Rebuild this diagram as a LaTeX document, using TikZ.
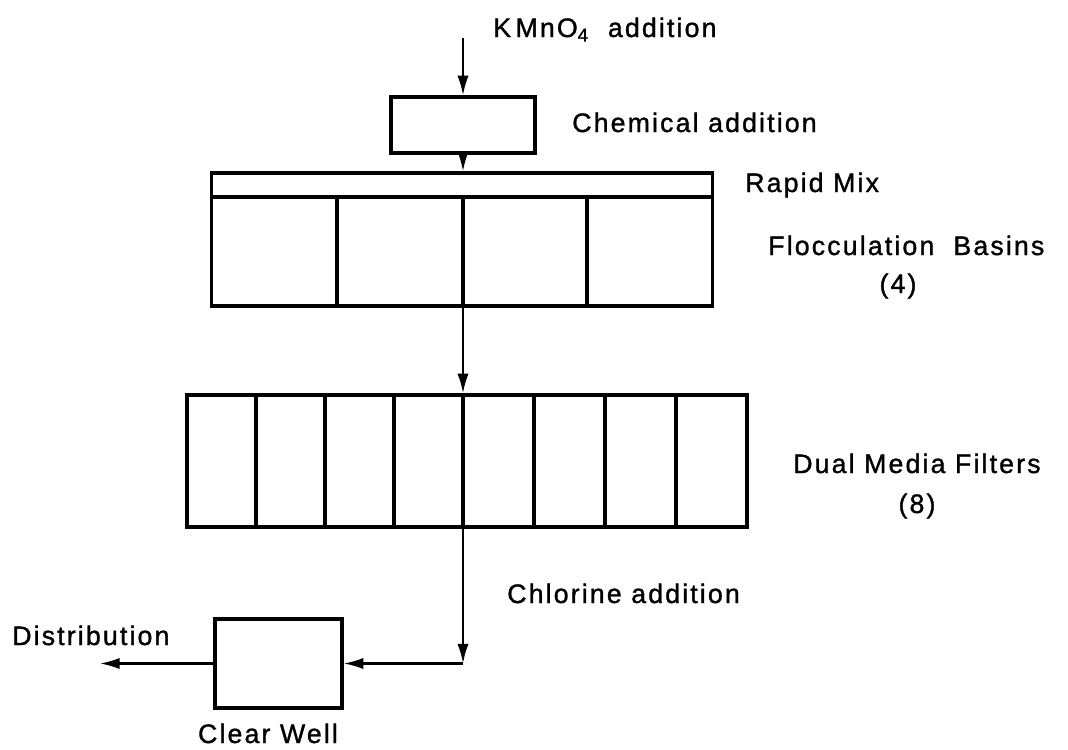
\documentclass[tikz,border=0pt]{standalone}
\usepackage{fontspec}
\setmainfont{Liberation Sans}[LetterSpace=8, FakeBold=1.2]
\usetikzlibrary{arrows.meta,positioning}

\tikzset{
  unit/.style={draw, line width=2.4pt, inner sep=0pt},
  wall/.style={line width=2.2pt},
  flow/.style={line width=1.5pt, -{Latex[length=14pt,width=8pt]}},
  lbl/.style={font=\fontsize{19}{22}\selectfont, inner sep=0pt},
}

\begin{document}
\begin{tikzpicture}[x=0.025cm, y=-0.025cm]
\useasboundingbox (0,0) rectangle (1068,750);

% Treatment units
\node[unit, minimum width=3.6cm, minimum height=1.4cm] (chem) at (463,125) {};
\node[unit, minimum width=12.525cm, minimum height=0.6cm] (rapid) at (462,185) {};
\node[unit, minimum width=12.525cm, minimum height=2.725cm] (basins) at (462,251.5) {};
\node[unit, minimum width=14cm, minimum height=3.3cm] (filters) at (467,461) {};
\node[unit, minimum width=3.175cm, minimum height=2.225cm] (well) at (278.5,663.5) {};

% Basin and filter walls
\foreach \x in {337,463,587}
    \draw[wall] (\x,197) -- (\x,306);
\foreach \x in {256,325,394,463,534,605,676}
    \draw[wall] (\x,395) -- (\x,527);

% Flow path
\coordinate (kin) at (463,38);
\coordinate (turn) at (463,663.5);
\coordinate (out) at (100,663.5);
\draw[flow] (kin) -- (chem.north);
\draw[flow] (chem.south) -- (chem.south |- rapid.north);
\draw[flow] (chem.south |- basins.south) -- (chem.south |- filters.north);
\draw[flow] (chem.south |- filters.south) -- (turn);
\draw[flow] (turn) -- (well.east);
\draw[flow] (well.west) -- (out);

% Labels
\node[lbl, anchor=base west] (kmno) at (493,37) {K\,MnO\textsubscript{4}\ \ addition};
\node[lbl, anchor=base west] (chemlbl) at (572,132) {Chemical addition};
\node[lbl, anchor=base west] (rapidlbl) at (745,192) {Rapid Mix};
\node[lbl, anchor=base west] (basinlbl) at (768,255) {Flocculation\ \ Basins};
\node[lbl, anchor=base] (basinnum) at (898,293) {(4)};
\node[lbl, anchor=base west] (filterlbl) at (793,473) {Dual Media Filters};
\node[lbl, anchor=base] (filternum) at (917,513) {(8)};
\node[lbl, anchor=base west] (cllbl) at (507,603) {Chlorine addition};
\node[lbl, anchor=base west] (outlbl) at (12,645) {Distribution};
\node[lbl, anchor=base] (welllbl) at (268,743) {Clear Well};

\end{tikzpicture}
\end{document}
